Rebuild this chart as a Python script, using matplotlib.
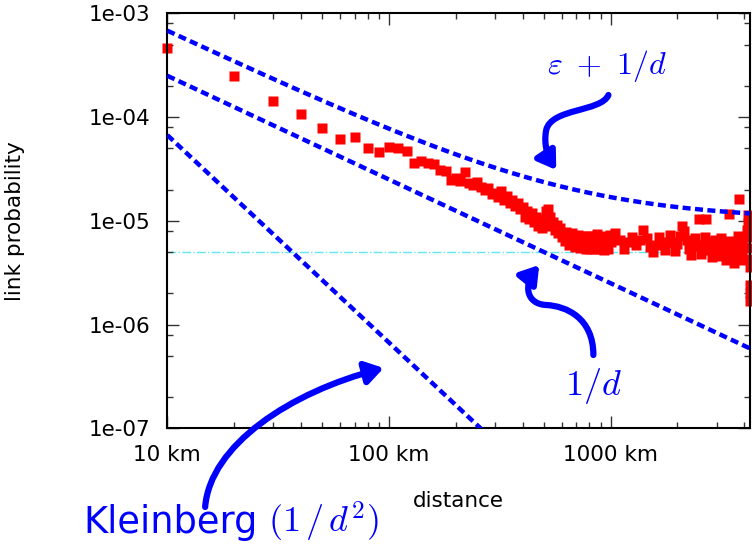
import numpy as np
import matplotlib
matplotlib.use("Agg")
import matplotlib.pyplot as plt
from matplotlib.path import Path
from matplotlib.patches import FancyArrowPatch
from matplotlib.ticker import FixedLocator, NullFormatter

plt.rcParams['font.family'] = 'DejaVu Sans'
plt.rcParams['mathtext.fontset'] = 'cm'

# binned link probability vs distance (km), one row per 10 bins
distance = [10, 20, 30, 40, 50, 60, 70, 80, 90, 100,
            110, 120, 130, 140, 150, 160, 170, 180, 190, 200,
            210, 220, 230, 240, 250, 260, 270, 280, 290, 300,
            310, 320, 330, 340, 350, 360, 370, 380, 390, 400,
            410, 420, 430, 440, 450, 460, 470, 480, 490, 500,
            510, 520, 530, 540, 550, 560, 570, 580, 590, 600,
            610, 620, 630, 640, 650, 660, 670, 680, 690, 700,
            710, 720, 730, 740, 750, 760, 770, 780, 790, 800,
            810, 820, 830, 840, 850, 860, 870, 880, 890, 900,
            910, 920, 930, 940, 950, 960, 970, 980, 990, 1000,
            1050, 1100, 1150, 1200, 1250, 1300, 1350, 1400, 1450, 1500,
            1550, 1600, 1650, 1700, 1750, 1800, 1850, 1900, 1950, 2000,
            2050, 2100, 2150, 2200, 2250, 2300, 2350, 2400, 2450, 2500,
            2550, 2600, 2650, 2700, 2750, 2800, 2850, 2900, 2950, 3000,
            3050, 3100, 3150, 3200, 3250, 3300, 3350, 3400, 3450, 3500,
            3550, 3600, 3650, 3700, 3750, 3800, 3850, 3900, 3950, 4000,
            4050, 4100, 4150, 4170, 4190, 4200, 4210, 4220, 4230, 4240, 4245, 4250]
probability = [4.6e-4, 2.5e-4, 1.43e-4, 1.06e-4, 7.9e-5, 6.2e-5, 6.4e-5, 5.0e-5, 4.6e-5, 5.2e-5,
               5.0e-5, 4.7e-5, 3.6e-5, 3.75e-5, 3.6e-5, 3.5e-5, 3.1e-5, 3.0e-5, 2.5e-5, 2.6e-5,
               2.4e-5, 2.95e-5, 2.3e-5, 2.2e-5, 2.35e-5, 2.1e-5, 2.0e-5, 2.05e-5, 1.8e-5, 1.85e-5,
               1.7e-5, 1.95e-5, 1.6e-5, 1.75e-5, 1.5e-5, 1.6e-5, 1.4e-5, 1.5e-5, 1.3e-5, 1.35e-5,
               1.1e-5, 1.25e-5, 1.05e-5, 1.2e-5, 9.8e-6, 1.1e-5, 9.0e-6, 1.05e-5, 8.5e-6, 1.0e-5,
               1.25e-5, 1.3e-5, 1.1e-5, 9.0e-6, 9.8e-6, 8.2e-6, 9.2e-6, 7.6e-6, 8.6e-6, 7.0e-6,
               7.4e-6, 6.4e-6, 7.8e-6, 6.6e-6, 5.8e-6, 6.9e-6, 7.6e-6, 6.3e-6, 5.6e-6, 6.8e-6,
               7.3e-6, 6.1e-6, 5.5e-6, 6.5e-6, 7.2e-6, 6.2e-6, 5.4e-6, 6.4e-6, 7.1e-6, 6.0e-6,
               5.3e-6, 6.3e-6, 7.2e-6, 6.1e-6, 5.4e-6, 6.5e-6, 7.4e-6, 6.2e-6, 5.3e-6, 6.2e-6,
               7.0e-6, 6.0e-6, 5.2e-6, 6.3e-6, 7.2e-6, 6.1e-6, 5.4e-6, 6.6e-6, 7.3e-6, 6.2e-6,
               7.6e-6, 6.5e-6, 5.4e-6, 6.2e-6, 7.0e-6, 5.9e-6, 6.6e-6, 8.1e-6, 6.8e-6, 5.6e-6,
               5.0e-6, 5.9e-6, 7.0e-6, 6.1e-6, 5.2e-6, 6.3e-6, 7.3e-6, 6.2e-6, 5.1e-6, 6.0e-6,
               7.2e-6, 9.0e-6, 8.0e-6, 6.6e-6, 5.4e-6, 4.7e-6, 5.7e-6, 6.8e-6, 5.8e-6, 1.05e-5,
               4.8e-6, 5.8e-6, 7.0e-6, 1.03e-5, 6.2e-6, 5.2e-6, 4.5e-6, 5.5e-6, 6.6e-6, 5.6e-6,
               4.6e-6, 5.5e-6, 6.8e-6, 5.8e-6, 4.8e-6, 4.2e-6, 5.2e-6, 1.17e-5, 6.4e-6, 5.4e-6,
               4.4e-6, 3.9e-6, 4.9e-6, 6.0e-6, 7.2e-6, 1.64e-5, 6.1e-6, 5.0e-6, 4.2e-6, 5.6e-6,
               7.0e-6, 8.2e-6, 9.5e-6, 1.15e-5, 9.0e-6, 7.0e-6, 5.5e-6, 4.3e-6, 3.6e-6, 2.4e-6, 2.0e-6, 1.7e-6]

# model curves
d_model = np.logspace(1, np.log10(4300), 200)
eps = 1.02e-5
upper = eps + 6.7e-3 / d_model
one_over_d = 2.5e-3 / d_model
kleinberg = 6.7e-3 / d_model ** 2
baseline = 5.0e-6

xticks = [10, 100, 1000]
xticklabels = ["10 km", "100 km", "1000 km"]
yticks = [1e-7, 1e-6, 1e-5, 1e-4, 1e-3]
yticklabels = ["1e-07", "1e-06", "1e-05", "1e-04", "1e-03"]

fig = plt.figure(figsize=(7.52, 5.45), dpi=100)
ax = fig.add_axes([0.2225, 0.2141, 0.7749, 0.7615])
ax.set_xscale('log')
ax.set_yscale('log')
ax.set_xlim(10, 4250)
ax.set_ylim(1e-7, 1e-3)

blue = '#0000ff'
dash = dict(color=blue, lw=3.2, dashes=(1.8, 1.0), dash_capstyle='butt')
ax.axhline(baseline, color='#60e8f0', lw=1.0, linestyle='-.', zorder=1)
ax.plot(distance, probability, 's', color='#ff0000', ms=7.6, mec='none', zorder=2, clip_on=False)
ax.plot(d_model, upper, **dash, zorder=3)
ax.plot(d_model, one_over_d, **dash, zorder=3)
ax.plot(d_model, kleinberg, **dash, zorder=3)

# ticks
ax.xaxis.set_major_locator(FixedLocator(xticks))
ax.set_xticklabels(xticklabels)
xminor = [k * 10 ** e for e in range(1, 4) for k in range(2, 10)]
ax.xaxis.set_minor_locator(FixedLocator(xminor))
ax.xaxis.set_minor_formatter(NullFormatter())
ax.yaxis.set_major_locator(FixedLocator(yticks))
ax.set_yticklabels(yticklabels)
yminor = [k * 10.0 ** e for e in range(-7, -3) for k in (2, 5, 8)]
ax.yaxis.set_minor_locator(FixedLocator(yminor))
ax.yaxis.set_minor_formatter(NullFormatter())
ax.tick_params(which='both', direction='in', top=True, right=True, width=1.0, color='#333333')
ax.tick_params(which='major', length=8.5, labelsize=15.5, pad=12)
ax.tick_params(which='minor', length=4.5)
for s in ax.spines.values():
    s.set_linewidth(1.5)

ax.set_xlabel("distance", fontsize=15.5)
ax.set_ylabel("link probability", fontsize=15.5)
ax.xaxis.set_label_coords(0.5, -0.152)
ax.yaxis.set_label_coords(-0.244, 0.5)

# annotations (pixel positions converted to data coords)
def px(x, y):
    return (10 ** (1 + (x - 167.3) / 221.0), 10 ** (-3 - (y - 13.3) / 103.75))

def curved_arrow(points):
    verts = [px(*p) for p in points]
    codes = [Path.MOVETO] + [Path.CURVE4] * (len(verts) - 1)
    arr = FancyArrowPatch(path=Path(verts, codes), arrowstyle='-|>,head_length=7,head_width=4.5',
                          color=blue, lw=4.5, transform=ax.transData, clip_on=False,
                          mutation_scale=1.5, zorder=5)
    ax.add_patch(arr)

ax.text(*px(606, 66), r'$\varepsilon\ +\ 1/d$', color=blue, fontsize=23, ha='center', va='center')
curved_arrow([(607, 95), (600, 112), (550, 108), (545, 130), (542, 145), (547, 158), (555, 170)])

ax.text(*px(592, 386), r'$1/d$', color=blue, fontsize=26, ha='center', va='center')
curved_arrow([(592, 355), (592, 318), (565, 306), (545, 305), (525, 304), (522, 285), (538, 265)])

fig.text(83 / 752, 1 - 533 / 545, 'Kleinberg', color=blue, fontsize=26.5, ha='left', va='baseline')
fig.text(268 / 752, 1 - 533 / 545, r'$(1\,/\,d^2)$', color=blue, fontsize=26, ha='left', va='baseline')
curved_arrow([(205, 507), (210, 445), (290, 392), (383, 368)])

fig.savefig("out.png", dpi=100)
